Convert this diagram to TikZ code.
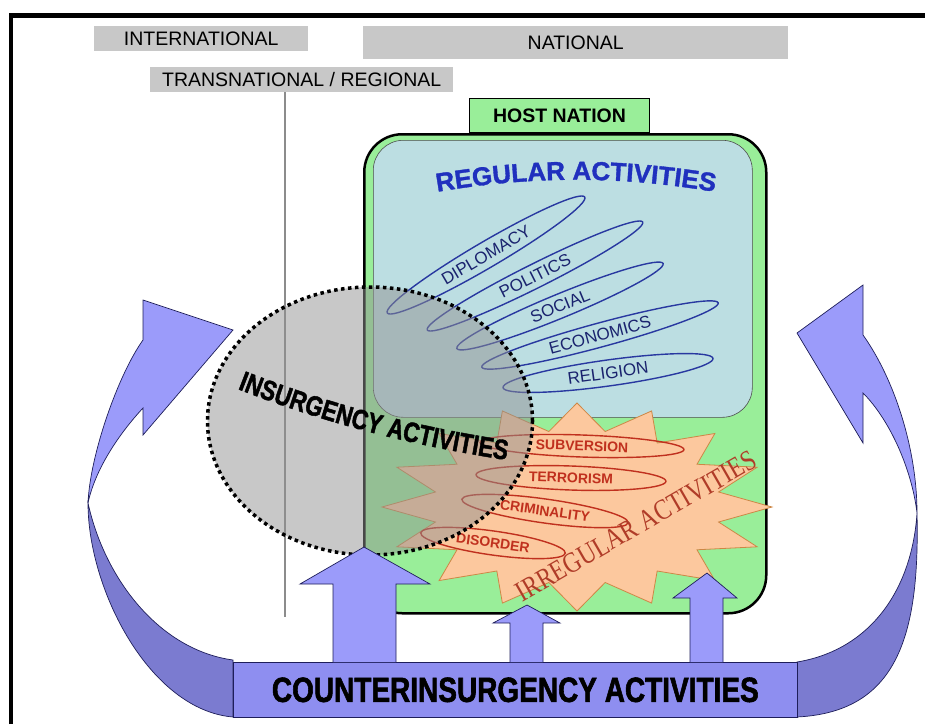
\documentclass[tikz,border=0pt]{standalone}
\usepackage{fontspec}
\setmainfont{Liberation Sans}
\newfontfamily\heavyfont[FakeStretch=0.8,FakeBold=1.6]{Liberation Sans}
\newfontfamily\blackfont[FakeBold=1.3]{Liberation Sans}
\newfontfamily\irregfont[FakeStretch=0.82]{Liberation Serif}
\usetikzlibrary{shapes.geometric,decorations.text}
\newcommand{\pxsize}[1]{\fontsize{#1}{#1}\selectfont}
\definecolor{boxgray}{RGB}{200,200,200}
\definecolor{hostgreen}{RGB}{153,238,153}
\definecolor{regblue}{RGB}{188,222,226}
\definecolor{starfill}{RGB}{252,200,158}
\definecolor{staredge}{RGB}{205,135,70}
\definecolor{loopblue}{RGB}{40,56,160}
\definecolor{labelblue}{RGB}{26,35,110}
\definecolor{titleblue}{RGB}{32,48,190}
\definecolor{loopred}{RGB}{192,48,30}
\definecolor{irregred}{RGB}{176,60,40}
\definecolor{arrowlight}{RGB}{155,155,250}
\definecolor{arrowdark}{RGB}{123,123,208}
\definecolor{barblue}{RGB}{142,142,240}
\definecolor{arrowedge}{RGB}{30,30,90}
\definecolor{insgray}{RGB}{145,145,145}

\begin{document}
\begin{tikzpicture}[x=1pt,y=-1pt,
  levelbox/.style={fill=boxgray, inner sep=0pt, font=\pxsize{19.5}},
  blueloop/.style={ellipse, draw=loopblue, line width=1.4pt, inner sep=0pt, text=labelblue, font=\pxsize{17}},
  redloop/.style={ellipse, draw=loopred, line width=1.4pt, inner sep=0pt, text=loopred, font=\bfseries\pxsize{14}},
  insurgent/.style={ellipse, fill=insgray, fill opacity=0.5, draw=black, line width=3.5pt, dash pattern=on 3.5pt off 3.5pt},
  ribbonlight/.style={fill=arrowlight, draw=arrowedge, line width=0.7pt},
  ribbondark/.style={fill=arrowdark, draw=arrowedge, line width=0.7pt},
  uparrow/.style={fill=arrowlight, draw=arrowedge, line width=0.7pt}]
\useasboundingbox (0,0) rectangle (925,724);

% Frame
\draw[line width=4.5pt] (11,724) -- (11,15.5) -- (925,15.5);

% Level boxes
\node[levelbox, minimum width=214, minimum height=25, anchor=north west] (intl) at (94,26) {INTERNATIONAL};
\node[levelbox, minimum width=425, minimum height=33, anchor=north west] (natl) at (363,26) {NATIONAL};
\node[levelbox, minimum width=303, minimum height=25, anchor=north west] (trans) at (150,67) {TRANSNATIONAL / REGIONAL};
% Divider
\coordinate (divfoot) at (285,617);
\draw[black!45, line width=2pt] (divfoot |- trans.south) -- (divfoot);

% Host nation
\node[fill=hostgreen, draw=black, line width=2.5pt, rounded corners=38, minimum width=402, minimum height=479, anchor=north west] (host) at (363,133) {};
\node[fill=hostgreen, draw=black, line width=1pt, minimum width=180, minimum height=34, anchor=south west, font=\bfseries\pxsize{19.5}] (hosttab) at (469,133) {HOST NATION};
\node[fill=regblue, draw=black!70, line width=0.6pt, rounded corners=30, minimum width=379, minimum height=277, anchor=north west] (regular) at (373,140) {};

% Regular activities
\path[decorate, decoration={text along path, text align=center, text color=titleblue,
  text={|\blackfont\bfseries\pxsize{26}|REGULAR ACTIVITIES}}] (425,194) .. controls (529,175) and (623,175) .. (727,194);
\node[blueloop, rotate=30.4, minimum width=229, minimum height=26] (diplomacy) at (486,255) {DIPLOMACY};
\node[blueloop, rotate=26.6, minimum width=241, minimum height=24] (politics) at (535,276) {POLITICS};
\node[blueloop, rotate=22.4, minimum width=223, minimum height=24] (social) at (560,306) {SOCIAL};
\node[blueloop, rotate=15.2, minimum width=245, minimum height=24] (economics) at (600,335) {ECONOMICS};
\node[blueloop, rotate=7.9, minimum width=212, minimum height=26] (religion) at (608,373) {RELIGION};

% Irregular activities
\draw[fill=starfill, draw=staredge, line width=0.8pt] plot[samples at={0,...,32}, variable=\k]
  ({577+195*(0.87+0.13*cos(\k*180))*cos(\k*11.25)}, {507-104*(0.87+0.13*cos(\k*180))*sin(\k*11.25)}) -- cycle;
\node[redloop, rotate=-2, minimum width=204, minimum height=22] (subversion) at (582,446) {SUBVERSION};
\node[redloop, rotate=-2, minimum width=190, minimum height=24] (terrorism) at (571,478) {TERRORISM};
\node[redloop, rotate=-8, minimum width=168, minimum height=24] (criminality) at (545,511) {CRIMINALITY};
\node[redloop, rotate=-8, minimum width=146, minimum height=24] (disorder) at (493,543) {DISORDER};
\node[rotate=30, text=irregred, font=\irregfont\pxsize{29}] (irregular) at (636,526) {IRREGULAR ACTIVITIES};

% Insurgency activities
\node[insurgent, minimum width=325, minimum height=268] (insurg) at (370,421) {};
\path[decorate, decoration={text along path, text align=center, text color=black,
  text={|\heavyfont\bfseries\pxsize{28}|INSURGENCY ACTIVITIES}}] (225,384) .. controls (327,425) and (418,447) .. (520,462);

% Left ribbon
\draw[ribbondark] (88,503) .. controls (88,590) and (150,710) .. (233,717) -- (233,660)
  .. controls (160,650) and (105,580) .. (88,503) -- cycle;
\draw[ribbonlight] (88,503) .. controls (90,455) and (118,375) .. (143,340) -- (143,300) -- (233,330)
  -- (143,435) -- (143,408) .. controls (118,435) and (95,470) .. (88,503) -- cycle;
% Right ribbon
\draw[ribbondark] (917,513) .. controls (920,640) and (895,712) .. (797,717) -- (797,662)
  .. controls (870,650) and (912,590) .. (917,513) -- cycle;
\draw[ribbonlight] (917,513) .. controls (917,450) and (895,380) .. (863,335) -- (863,285) -- (797,333)
  -- (863,443) -- (863,393) .. controls (890,420) and (912,470) .. (917,513) -- cycle;

% Counterinsurgency bar
\node[fill=barblue, draw=arrowedge, line width=0.7pt, minimum width=564, minimum height=55, anchor=north west,
  font=\heavyfont\bfseries\pxsize{35}] (coin) at (233,662) {COUNTERINSURGENCY ACTIVITIES};
% Up arrows
\draw[uparrow] (333,662) -- (333,584) -- (300,584) -- (364,547) -- (430,584) -- (396,584) -- (396,662);
\draw[uparrow] (510,662) -- (510,623) -- (493,623) -- (527,605) -- (560,623) -- (543,623) -- (543,662);
\draw[uparrow] (690,662) -- (690,598) -- (673,598) -- (707,573) -- (737,598) -- (723,598) -- (723,662);

\end{tikzpicture}
\end{document}
